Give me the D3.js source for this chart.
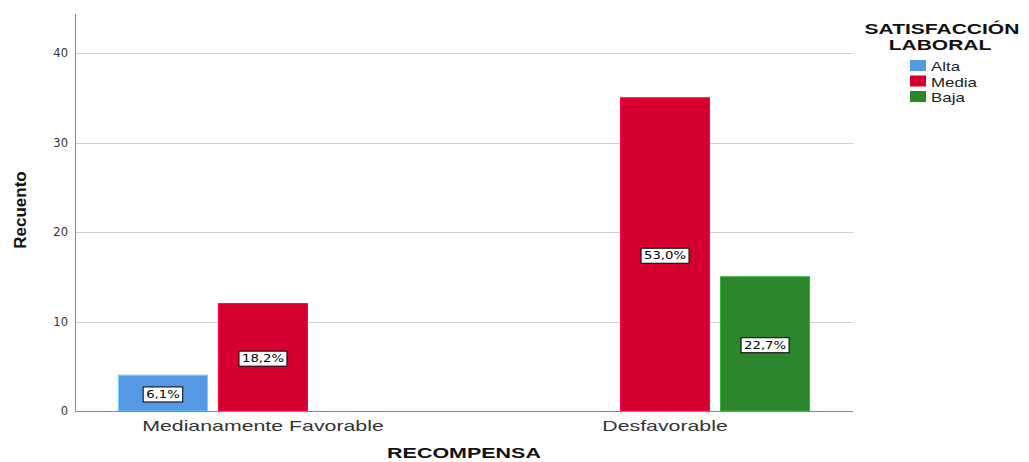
<!DOCTYPE html>
<html><head><meta charset="utf-8">
<script src="https://cdn.jsdelivr.net/npm/d3@7"></script>
<style>body{margin:0;background:#fff}svg{display:block;font-family:"Liberation Sans",Arial,sans-serif}</style>
</head><body><svg id="c" width="1029" height="462"></svg>
<script>
const categories = ["Medianamente Favorable", "Desfavorable"];
const seriesNames = ["Alta", "Media", "Baja"];
const seriesColors = ["#5599e4", "#d50030", "#2b852b"];
const alta = [4, 0];
const media = [12, 35];
const baja = [0, 15];
const altaLabels = ["6,1%", ""];
const mediaLabels = ["18,2%", "53,0%"];
const bajaLabels = ["", "22,7%"];
const yTicks = [0, 10, 20, 30, 40];

const seriesValues = [alta, media, baja];
const seriesLabels = [altaLabels, mediaLabels, bajaLabels];

function stretch(sel, f) {
  sel.each(function() {
    const w = this.getComputedTextLength();
    d3.select(this).attr("textLength", w * f).attr("lengthAdjust", "spacingAndGlyphs");
  });
}

const svg = d3.select("#c");
const L = 75, R = 853, T = 14, B = 411;
const y = d3.scaleLinear().domain([0, 44.36]).range([B, T]);
const x0 = d3.scaleBand().domain(categories).range([L, R]).paddingInner(0.281).paddingOuter(0.108);
const x1 = d3.scaleBand().domain(seriesNames).range([0, x0.bandwidth()]).paddingInner(0.11).paddingOuter(0);

// grid
svg.append("g").selectAll("line").data(yTicks.filter(d => d > 0)).join("line")
  .attr("x1", L).attr("x2", R).attr("y1", d => Math.round(y(d)) + 0.5).attr("y2", d => Math.round(y(d)) + 0.5)
  .attr("stroke", "#cfcfcf").attr("stroke-width", 1);

// y tick labels
const yAxis = svg.append("g").attr("transform", `translate(${L},0)`)
  .call(d3.axisLeft(y).tickValues(yTicks).tickSize(0).tickPadding(7));
yAxis.select(".domain").remove();
yAxis.selectAll("text").attr("fill", "#333").attr("font-family", "'DejaVu Sans', sans-serif").attr("font-size", 11.5);

// bars
const data = [];
categories.forEach((c, i) => seriesNames.forEach((s, j) => {
  if (seriesValues[j][i] > 0) data.push({c, s, v: seriesValues[j][i], lab: seriesLabels[j][i], col: seriesColors[j]});
}));
svg.append("g").selectAll("rect").data(data).join("rect")
  .attr("x", d => x0(d.c) + x1(d.s)).attr("width", x1.bandwidth())
  .attr("y", d => y(d.v)).attr("height", d => B - y(d.v))
  .attr("fill", d => d.col).attr("stroke", d => d3.color(d.col).brighter(0.8)).attr("stroke-width", 1);

// value labels
const lg = svg.append("g").selectAll("g").data(data).join("g")
  .attr("transform", d => `translate(${x0(d.c) + x1(d.s) + x1.bandwidth() / 2},${(y(d.v) + B) / 2 + 1})`);
const lt = lg.append("text").attr("text-anchor", "middle").attr("dy", "0.35em")
  .attr("font-family", "'DejaVu Sans', sans-serif").attr("font-size", 11).attr("fill", "#000")
  .text(d => d.lab);
stretch(lt, 1.2);
lg.each(function() {
  const t = d3.select(this).select("text").node().getBBox();
  d3.select(this).insert("rect", "text").attr("x", t.x - 3).attr("y", t.y - 1).attr("width", t.width + 6).attr("height", t.height + 2)
    .attr("fill", "#fff").attr("stroke", "#000").attr("stroke-width", 1);
});

// axes lines
svg.append("line").attr("x1", L + 0.5).attr("x2", L + 0.5).attr("y1", T).attr("y2", B).attr("stroke", "#888");
svg.append("line").attr("x1", L).attr("x2", R).attr("y1", B + 0.5).attr("y2", B + 0.5).attr("stroke", "#888");

// x labels
const xAxis = svg.append("g").attr("transform", `translate(0,${B})`).call(d3.axisBottom(x0).tickSize(0).tickPadding(9));
xAxis.select(".domain").remove();
xAxis.selectAll("text").attr("font-size", 15).attr("fill", "#333").attr("font-family", "'Liberation Sans', Arial, sans-serif");
stretch(xAxis.selectAll("text"), 1.42);

// axis titles
const xt = svg.append("text").attr("x", L + (R - L) / 2).attr("y", 458).attr("text-anchor", "middle")
  .attr("font-size", 15).attr("font-weight", "bold").attr("fill", "#111").text("RECOMPENSA");
stretch(xt, 1.43);
svg.append("text").attr("transform", `translate(26,210) rotate(-90)`).attr("text-anchor", "middle")
  .attr("font-size", 17).attr("font-weight", "bold").attr("fill", "#111")
  .attr("font-family", "'Liberation Sans Narrow', 'Liberation Sans', sans-serif").text("Recuento");

// legend
const leg = svg.append("g");
const lt1 = leg.append("text").attr("x", 942).attr("y", 34).attr("text-anchor", "middle").attr("font-size", 14).attr("font-weight", "bold").attr("fill", "#111").text("SATISFACCIÓN");
const lt2 = leg.append("text").attr("x", 940).attr("y", 50).attr("text-anchor", "middle").attr("font-size", 14).attr("font-weight", "bold").attr("fill", "#111").text("LABORAL");
stretch(lt1, 1.5); stretch(lt2, 1.5);
const li = leg.selectAll("g.item").data(seriesNames).join("g").attr("class", "item")
  .attr("transform", (d, i) => `translate(910,${60 + i * 15.5})`);
li.append("rect").attr("width", 16).attr("height", 11).attr("fill", (d, i) => seriesColors[i]);
const lit = li.append("text").attr("x", 21).attr("y", 11).attr("font-size", 13.5).attr("fill", "#222").text(d => d);
stretch(lit, 1.25);
</script></body></html>
